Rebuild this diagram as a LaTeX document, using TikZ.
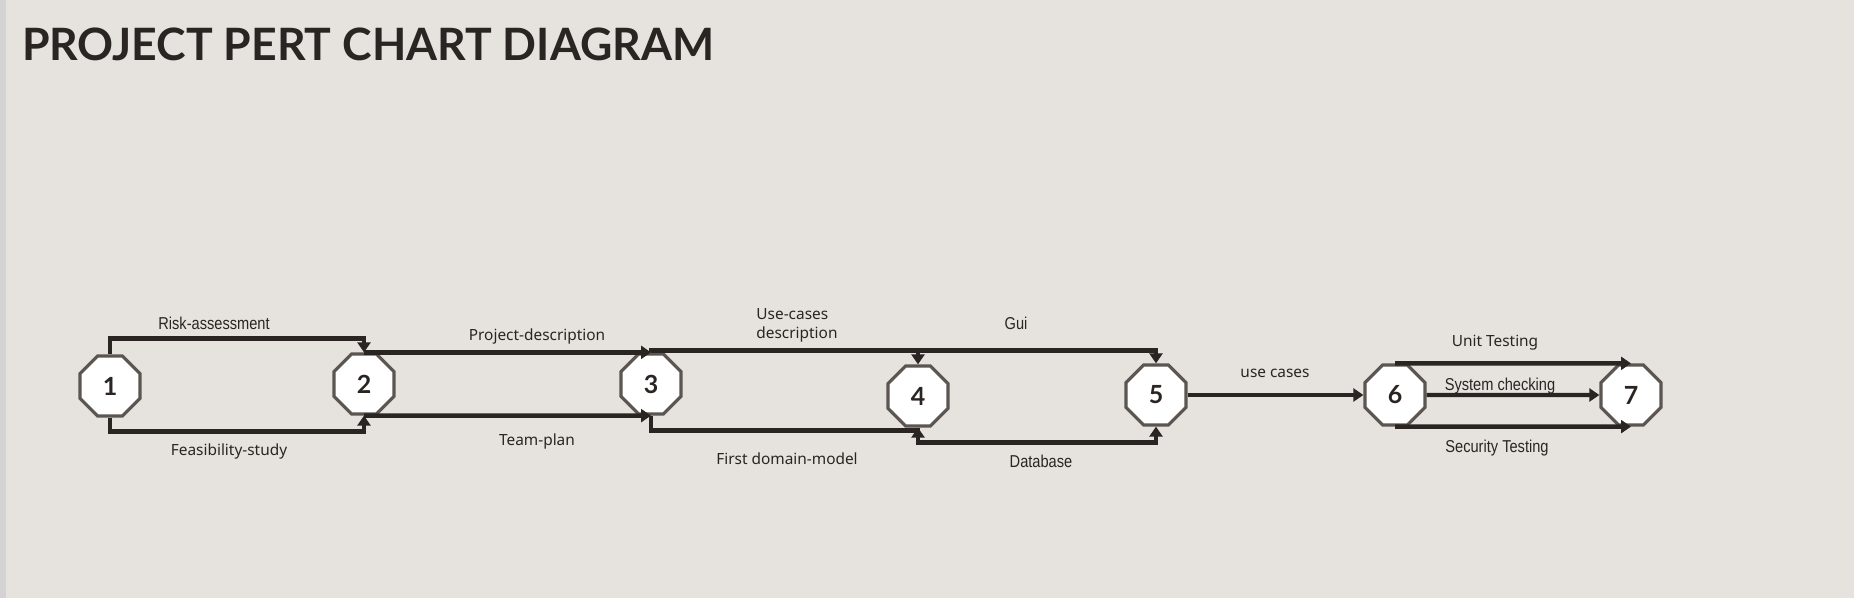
\documentclass[tikz,border=0pt]{standalone}
\usepackage{fontspec}
\setmainfont{Lato}
\newfontfamily\labfont{Noto Sans}
\newfontfamily\narrowfont[FakeStretch=0.85]{Liberation Sans}
\usetikzlibrary{shapes.geometric,arrows.meta}
\definecolor{paper}{HTML}{E6E2DE}
\definecolor{strip}{HTML}{D3D3D3}
\definecolor{ink}{HTML}{2A2523}
\definecolor{rim}{HTML}{5C5652}
\tikzset{
  event/.style={regular polygon, regular polygon sides=8, minimum size=32.5pt, inner sep=0pt,
    draw=rim, line width=1.6pt, fill=white, text=ink, font=\fontsize{12.5}{14}\selectfont\bfseries},
  task/.style={draw=ink, line width=2.2pt, -{Triangle[width=6.5pt,length=5pt]}},
  lab/.style={text=ink, font=\labfont\fontsize{7.7}{9.5}\selectfont},
  narrowlab/.style={text=ink, font=\narrowfont\fontsize{8.6}{10}\selectfont}
}
\begin{document}
\begin{tikzpicture}[x=0.5pt,y=-0.5pt]
\fill[paper] (0,0) rectangle (1854,598);
\fill[strip] (0,0) rectangle (6,598);
\node[anchor=base west, text=ink, font=\fontsize{22.3}{26}\selectfont\bfseries] (title) at (15,61) {PROJECT PERT CHART DIAGRAM};
\node[event] (n1) at (110,386) {1};
\node[event] (n2) at (364,384) {2};
\node[event] (n3) at (651,384) {3};
\node[event] (n4) at (918,396) {4};
\node[event] (n5) at (1156,395) {5};
\node[event] (n6) at (1395,395) {6};
\node[event] (n7) at (1631,395) {7};
\draw[task] (n1.north) -- ++(0,-16) -| (n2.north);
\draw[task] (n1.south) -- ++(0,14) -| (n2.south);
\draw[task] (n2.north) -- (n3.north);
\draw[task] (n2.south) -- (n3.south);
\draw[task] (n3.north) -- ++(0,-2) -| (n4.north);
\draw[task] (n3.north) -- ++(0,-2) -| (n5.north);
\draw[task] (n3.south) -- ++(0,15) -| (n4.south);
\draw[task] (n4.south) -- ++(0,15) -| (n5.south);
\draw[task] (n5.east) -- (n6.west);
\draw[task] (n6.north) -- (n7.north);
\draw[task] (n6.east) -- (n7.west);
\draw[task] (n6.south) -- (n7.south);
\node[narrowlab] (risk) at (214,323) {Risk-assessment};
\node[lab] (feas) at (229,451) {Feasibility-study};
\node[lab] (proj) at (537,336) {Project-description};
\node[lab] (team) at (537,441) {Team-plan};
\node[lab, align=left] (usec) at (797,325) {Use-cases\\description};
\node[narrowlab] (gui) at (1016,323) {Gui};
\node[lab] (fdm) at (787,459) {First domain-model};
\node[narrowlab] (db) at (1041,461) {Database};
\node[lab] (uc) at (1275,373) {use cases};
\node[lab] (unit) at (1495,343) {Unit Testing};
\node[narrowlab] (sys) at (1500,386) {System checking};
\node[narrowlab] (sec) at (1497,448) {Security Testing};
\end{tikzpicture}
\end{document}
